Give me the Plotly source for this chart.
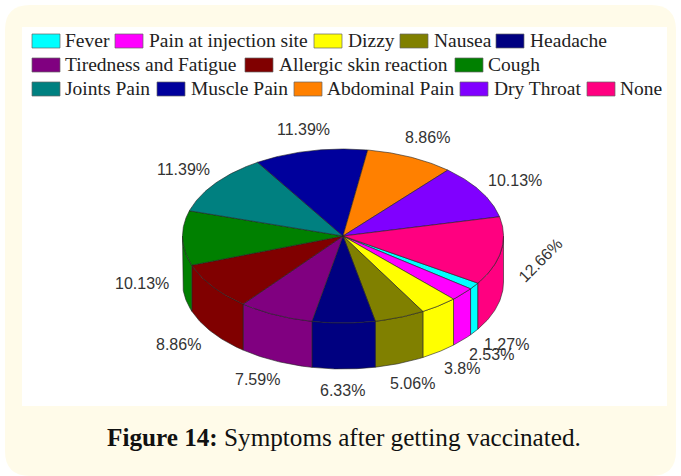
import numpy as np
import plotly.graph_objects as go

categories = ["Fever", "Pain at injection site", "Dizzy", "Nausea", "Headache",
              "Tiredness and Fatigue", "Allergic skin reaction", "Cough",
              "Joints Pain", "Muscle Pain", "Abdominal Pain", "Dry Throat", "None"]
values = [1.27, 2.53, 3.8, 5.06, 6.33, 7.59, 8.86, 10.13, 11.39, 11.39, 8.86, 10.13, 12.66]
colors = ["#00FFFF", "#FF00FF", "#FFFF00", "#808000", "#000080", "#800080", "#800000",
          "#008000", "#008080", "#00009C", "#FF8000", "#8000FF", "#FF0080"]

# Pie geometry (pixel axes)
CX, CY, RX, RY, DEPTH = 343, 236, 160.5, 87, 46
START = -32.8  # degrees, proceeding clockwise on screen

# Label placement: centre x, y, rotation
label_pos = [(506, 344, 0), (491, 354, 0), (462, 368, 0), (412, 383, 0), (342, 390, 0),
             (257, 379, 0), (178, 344, 0), (142, 283, 0), (183, 169, 0), (303, 129, 0),
             (427, 137, 0), (515, 180, 0), (540, 260, -45)]

# Legend placement: swatch left, row centre y, text left
legend_pos = [(32, 41, 63), (115, 41, 147), (314, 41, 346), (400, 41, 432), (496, 41, 528),
              (32, 65, 63), (245, 65, 277), (455, 65, 486),
              (32, 89, 63), (157, 89, 189), (294, 89, 325), (460, 89, 492), (587, 89, 618)]

fig = go.Figure()
line = dict(color="#222222", width=0.6)


def ell(a, dy=0.0):
    r = np.radians(a)
    return CX + RX * np.cos(r), CY - RY * np.sin(r) + dy


edges = START - np.concatenate([[0], np.cumsum(values)]) * 3.6
# Sides (front half only: angles between -180 and 0, modulo 360)
for i, col in enumerate(colors):
    a0, a1 = edges[i], edges[i + 1]
    for shift in (0, 360, -360):
        lo = max(a1 + shift, -180)
        hi = min(a0 + shift, 0)
        if lo < hi:
            t = np.linspace(hi, lo, 40)
            x1, y1 = ell(t)
            x2, y2 = ell(t[::-1], DEPTH)
            fig.add_trace(go.Scatter(x=np.r_[x1, x2, x1[0]], y=np.r_[y1, y2, y1[0]], mode="lines",
                                     fill="toself", fillcolor=col, line=line,
                                     hoverinfo="skip", showlegend=False))
# Top wedges
for i, col in enumerate(colors):
    t = np.linspace(edges[i], edges[i + 1], 60)
    x, y = ell(t)
    fig.add_trace(go.Scatter(x=np.r_[CX, x, CX], y=np.r_[CY, y, CY], mode="lines",
                             fill="toself", fillcolor=col, line=line,
                             name=categories[i], text=f"{categories[i]}: {values[i]}%",
                             hoverinfo="text", showlegend=False))

shapes = [
    dict(type="path", layer="below", line=dict(width=0), fillcolor="#FFFBE9",
         path="M 5 30 Q 5 5 30 5 L 651 5 Q 676 5 676 30 L 676 451 Q 676 476 651 476 "
              "L 30 476 Q 5 476 5 451 Z"),
    dict(type="rect", layer="below", x0=22, x1=667, y0=27, y1=406, line=dict(width=0), fillcolor="white"),
]
annotations = []
for v, (x, y, rot) in zip(values, label_pos):
    annotations.append(dict(x=x, y=y, text=f"{v}%", showarrow=False, textangle=rot,
                            xanchor="center", yanchor="middle",
                            font=dict(family="Liberation Sans", size=16, color="#333333")))
for name, col, (sx, y, tx) in zip(categories, colors, legend_pos):
    shapes.append(dict(type="rect", x0=sx, x1=sx + 28, y0=y - 7, y1=y + 7, fillcolor=col,
                       line=dict(color="#666666", width=0.7)))
    annotations.append(dict(x=tx, y=y - 1, text=name, showarrow=False, xanchor="left", yanchor="middle",
                            font=dict(family="Liberation Serif", size=19.5, color="#222222")))
annotations.append(dict(x=344, y=437, showarrow=False, xanchor="center", yanchor="middle",
                        text="<b>Figure 14:</b> Symptoms after getting vaccinated.",
                        font=dict(family="Liberation Serif", size=25.2, color="#111111")))

fig.update_layout(width=681, height=476, margin=dict(l=0, r=0, t=0, b=0), autosize=False,
                  paper_bgcolor="white", plot_bgcolor="rgba(0,0,0,0)", shapes=shapes,
                  annotations=annotations,
                  xaxis=dict(range=[0, 681], visible=False, fixedrange=True),
                  yaxis=dict(range=[476, 0], visible=False, fixedrange=True))
fig.write_html("out.html", config=dict(displayModeBar=False),
               post_script="document.body.style.margin='0';document.documentElement.style.overflow='hidden';")
